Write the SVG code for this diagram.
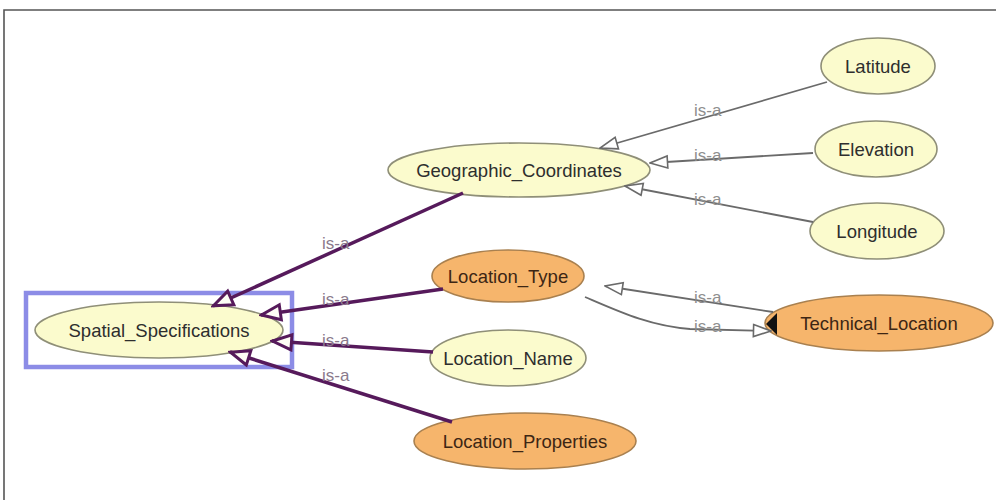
<svg xmlns="http://www.w3.org/2000/svg" width="996" height="500" viewBox="0 0 996 500">
<style>
.node text{font-family:"Liberation Sans",Arial,sans-serif;font-size:18.5px;text-anchor:middle}
.y ellipse{fill:#fbfbcd;stroke:#8f8f78;stroke-width:1.6}
.y text{fill:#2e2e2e}
.o ellipse{fill:#f6b56c;stroke:#a9804f;stroke-width:1.6}
.o text{fill:#3d2614}
.g{fill:none;stroke:#6a6a6a;stroke-width:1.8;marker-end:url(#ag)}
.p{fill:none;stroke:#561a5b;stroke-width:3.5;marker-end:url(#ap)}
.lbl{font-family:"Liberation Sans",Arial,sans-serif;font-size:17px;fill:#8e8e8e}
.lp{fill:#8a7a8c}
</style>
<defs>
<marker id="ag" markerUnits="userSpaceOnUse" markerWidth="20" markerHeight="16" viewBox="0 0 20 16" refX="19" refY="8" orient="auto">
<path d="M1.5,2 L19,8 L1.5,14 Z" fill="#ffffff" stroke="#6a6a6a" stroke-width="1.6"/>
</marker>
<marker id="ap" markerUnits="userSpaceOnUse" markerWidth="24" markerHeight="20" viewBox="0 0 24 20" refX="22" refY="10" orient="auto">
<path d="M2.5,2.5 L21.5,10 L2.5,17.5 Z" fill="#fdfdf4" stroke="#561a5b" stroke-width="3"/>
</marker>
</defs>
<rect x="0" y="0" width="996" height="500" fill="#ffffff"/>
<path d="M4,500 L4,10 L996,10" fill="none" stroke="#555" stroke-width="1.6"/>

<g id="Spatial_Specifications" class="node y">
<ellipse cx="159" cy="330" rx="124" ry="28"/>
<text x="159" y="336.5">Spatial_Specifications</text>
<rect x="26" y="293" width="266" height="74" fill="none" stroke="#8c8ce6" stroke-width="4.5"/>
</g>
<g id="Geographic_Coordinates" class="node y">
<ellipse cx="519" cy="170" rx="131" ry="27"/>
<text x="519" y="176.5">Geographic_Coordinates</text>
</g>
<g id="Latitude" class="node y">
<ellipse cx="878" cy="66" rx="57" ry="28"/>
<text x="878" y="72.5">Latitude</text>
</g>
<g id="Elevation" class="node y">
<ellipse cx="876" cy="149" rx="61" ry="28"/>
<text x="876" y="155.5">Elevation</text>
</g>
<g id="Longitude" class="node y">
<ellipse cx="877" cy="231" rx="67" ry="28"/>
<text x="877" y="237.5">Longitude</text>
</g>
<g id="Location_Type" class="node o">
<ellipse cx="508" cy="276" rx="76" ry="26"/>
<text x="508" y="282.5">Location_Type</text>
</g>
<g id="Location_Name" class="node y">
<ellipse cx="508" cy="358" rx="78" ry="28"/>
<text x="508" y="364.5">Location_Name</text>
</g>
<g id="Location_Properties" class="node o">
<ellipse cx="525" cy="441" rx="111" ry="28"/>
<text x="525" y="447.5">Location_Properties</text>
</g>
<g id="Technical_Location" class="node o">
<ellipse cx="879" cy="323" rx="114" ry="28"/>
<text x="879" y="329.5">Technical_Location</text>
<polygon points="777,313 766,324 777,335" fill="#111"/>
</g>

<g id="connectors">
<line class="g" x1="827" y1="82" x2="600" y2="148"/>
<line class="g" x1="813" y1="153" x2="650" y2="163"/>
<line class="g" x1="813" y1="222" x2="625" y2="186"/>
<line class="g" x1="773" y1="312" x2="605" y2="286"/>
<path class="g" d="M585,297 C620,312 650,326 690,329 L771,331"/>
<line class="p" x1="463" y1="193" x2="213" y2="306"/>
<line class="p" x1="443" y1="289" x2="261" y2="315"/>
<line class="p" x1="433" y1="352" x2="272" y2="341"/>
<line class="p" x1="452" y1="422" x2="230" y2="352"/>
<text class="lbl" x="694" y="116">is-a</text>
<text class="lbl" x="694" y="161">is-a</text>
<text class="lbl" x="694" y="205">is-a</text>
<text class="lbl" x="694" y="303">is-a</text>
<text class="lbl" x="694" y="332">is-a</text>
<text class="lbl lp" x="322" y="249">is-a</text>
<text class="lbl lp" x="322" y="305">is-a</text>
<text class="lbl lp" x="322" y="346">is-a</text>
<text class="lbl lp" x="322" y="381">is-a</text>
</g>
</svg>
